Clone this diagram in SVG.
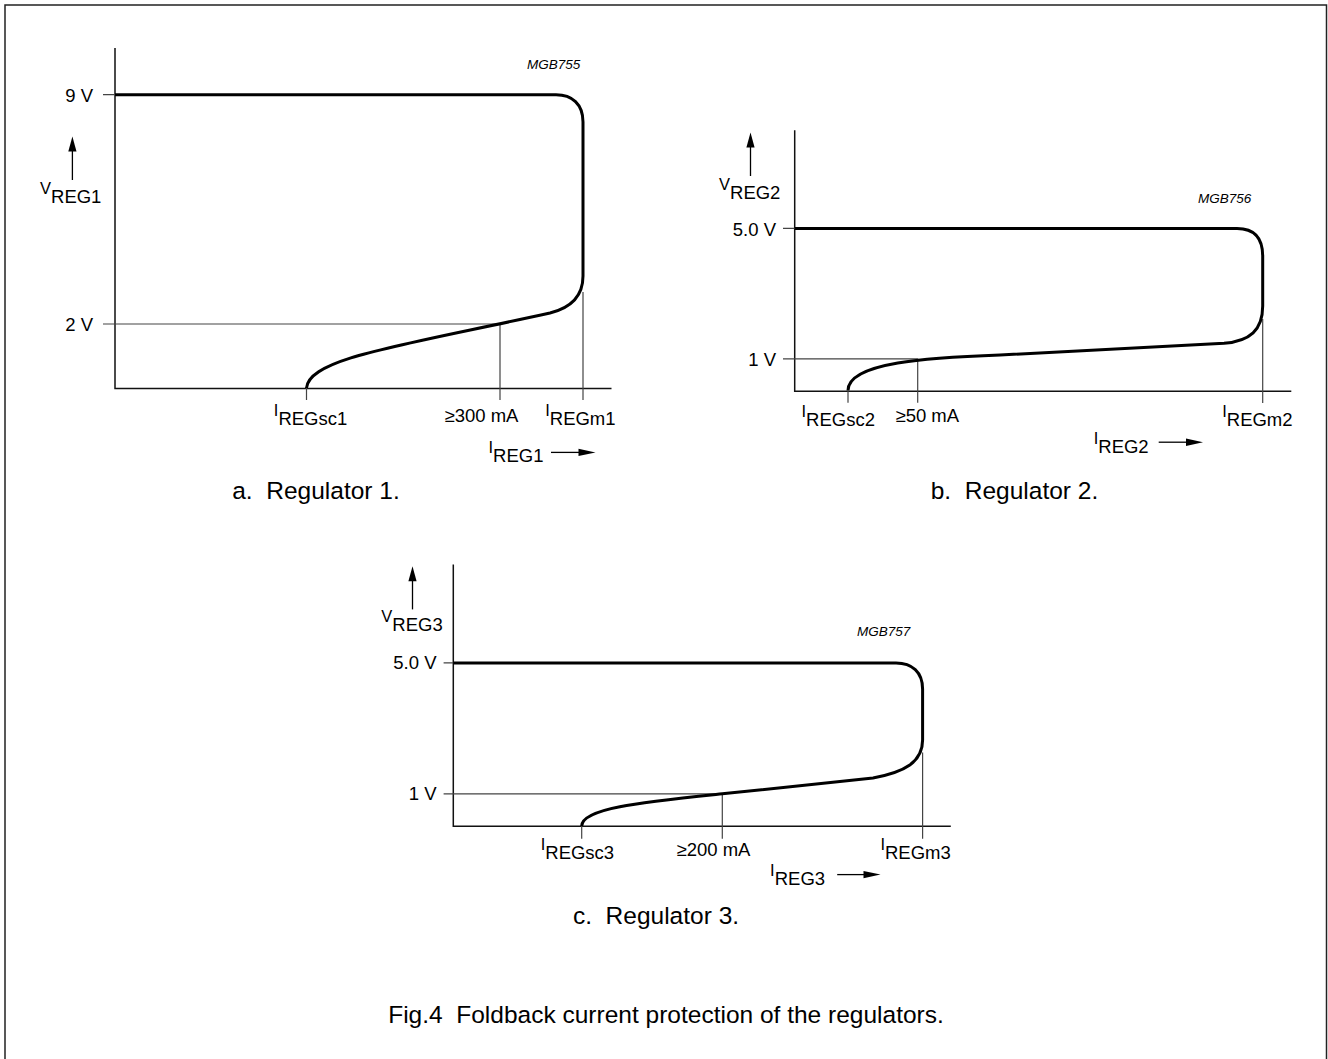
<svg xmlns="http://www.w3.org/2000/svg" width="1328" height="1059" viewBox="0 0 1328 1059">
<style>
text{font-family:"Liberation Sans",Arial,sans-serif;fill:#000;white-space:pre}
.lbl{font-size:18.5px}
.pre{font-size:16.5px}
.cap{font-size:24.5px}
.code{font-size:13.5px;font-style:italic}
.axis{stroke:#111;stroke-width:1.5;fill:none}
.guide{stroke:#444;stroke-width:1.2;fill:none}
.curve{stroke:#000;stroke-width:3;fill:none;stroke-linejoin:round}
.arr{stroke:#000;stroke-width:1.3;fill:none}
.head{fill:#000}
</style>
<rect x="5" y="5" width="1321.5" height="1058" fill="#fff" stroke="#222" stroke-width="1.5"/>

<g id="panel-a">
  <path class="axis" d="M115,48 V388.5 H611.5"/>
  <path class="guide" d="M103,94.7 H115 M103,324 H500 M500,324 V400 M583,292 V400 M306.5,388 V400"/>
  <path class="curve" d="M115,94.7 H556 C572,94.7 583,104 583,122 V276 C583,297 570,308 550,313 C400,346 309,358 306.5,388"/>
  <text class="lbl" x="93" y="102" text-anchor="end">9 V</text>
  <text class="lbl" x="93" y="331" text-anchor="end">2 V</text>
  <text class="code" x="527" y="69.4">MGB755</text>
  <text x="40" y="194"><tspan class="pre">V</tspan><tspan class="lbl" dy="9">REG1</tspan></text>
  <path class="arr" d="M72.4,180 V150"/>
  <polygon class="head" points="72.4,136.5 68.3,151.5 76.5,151.5"/>
  <text x="273.8" y="416"><tspan class="pre">I</tspan><tspan class="lbl" dy="9">REGsc1</tspan></text>
  <text class="lbl" x="444.5" y="422">≥300 mA</text>
  <text x="545.2" y="416"><tspan class="pre">I</tspan><tspan class="lbl" dy="9">REGm1</tspan></text>
  <text x="488.5" y="453"><tspan class="pre">I</tspan><tspan class="lbl" dy="9">REG1</tspan></text>
  <path class="arr" d="M551,452.4 H580"/>
  <polygon class="head" points="595.5,452.4 578.5,448.7 578.5,456.1"/>
  <text class="cap" x="316" y="498.7" text-anchor="middle">a.  Regulator 1.</text>
</g>

<g id="panel-b">
  <path class="axis" d="M794.7,130.3 V391.2 H1291.3"/>
  <path class="guide" d="M783,228.4 H794.7 M783,358.8 H917.7 M917.7,358.5 V402.7 M848,391 V402.7 M1262.7,319 V403"/>
  <path class="curve" d="M794.7,228.4 H1237 C1254,228.4 1262.7,238 1262.7,256 V306 C1262.7,330 1250,341 1224,343.3 L1000,355 C930,357.5 848,362 848,390.5"/>
  <text class="lbl" x="776" y="235.5" text-anchor="end">5.0 V</text>
  <text class="lbl" x="776" y="366" text-anchor="end">1 V</text>
  <text class="code" x="1198" y="203">MGB756</text>
  <text x="719" y="190"><tspan class="pre">V</tspan><tspan class="lbl" dy="9">REG2</tspan></text>
  <path class="arr" d="M750.5,176 V146"/>
  <polygon class="head" points="750.5,132.5 746.4,147.5 754.6,147.5"/>
  <text x="801.5" y="417"><tspan class="pre">I</tspan><tspan class="lbl" dy="9">REGsc2</tspan></text>
  <text class="lbl" x="895.5" y="421.7">≥50 mA</text>
  <text x="1222.2" y="416.5"><tspan class="pre">I</tspan><tspan class="lbl" dy="9">REGm2</tspan></text>
  <text x="1093.7" y="443.5"><tspan class="pre">I</tspan><tspan class="lbl" dy="9">REG2</tspan></text>
  <path class="arr" d="M1158.7,442.2 H1188"/>
  <polygon class="head" points="1203,442.2 1186,438.5 1186,445.9"/>
  <text class="cap" x="1014.5" y="499" text-anchor="middle">b.  Regulator 2.</text>
</g>

<g id="panel-c">
  <path class="axis" d="M453.3,564.4 V826.2 H950.8"/>
  <path class="guide" d="M443.6,662.9 H453.3 M443.6,793.8 H722.3 M722.3,793.8 V838.8 M581.7,826 V838.8 M922.6,752.5 V838.8"/>
  <path class="curve" d="M453.3,662.9 H896 C912,662.9 922.6,672 922.6,689 V740 C922.6,762 905,772 873,778 L722.3,793.8 C642,802.2 581.7,808 581.7,826"/>
  <text class="lbl" x="436.5" y="668.5" text-anchor="end">5.0 V</text>
  <text class="lbl" x="436.5" y="800" text-anchor="end">1 V</text>
  <text class="code" x="857" y="636">MGB757</text>
  <text x="381.3" y="622.3"><tspan class="pre">V</tspan><tspan class="lbl" dy="9">REG3</tspan></text>
  <path class="arr" d="M412.5,609.4 V580"/>
  <polygon class="head" points="412.5,566.3 408.4,581.3 416.6,581.3"/>
  <text x="540.7" y="850"><tspan class="pre">I</tspan><tspan class="lbl" dy="9">REGsc3</tspan></text>
  <text class="lbl" x="676.5" y="855.6">≥200 mA</text>
  <text x="880.4" y="850"><tspan class="pre">I</tspan><tspan class="lbl" dy="9">REGm3</tspan></text>
  <text x="770.1" y="876"><tspan class="pre">I</tspan><tspan class="lbl" dy="9">REG3</tspan></text>
  <path class="arr" d="M837.2,874.6 H866"/>
  <polygon class="head" points="880.5,874.6 863.5,870.9 863.5,878.3"/>
  <text class="cap" x="656" y="924" text-anchor="middle">c.  Regulator 3.</text>
</g>

<g id="caption">
  <text class="cap" x="666" y="1022.7" text-anchor="middle">Fig.4  Foldback current protection of the regulators.</text>
</g>
</svg>
